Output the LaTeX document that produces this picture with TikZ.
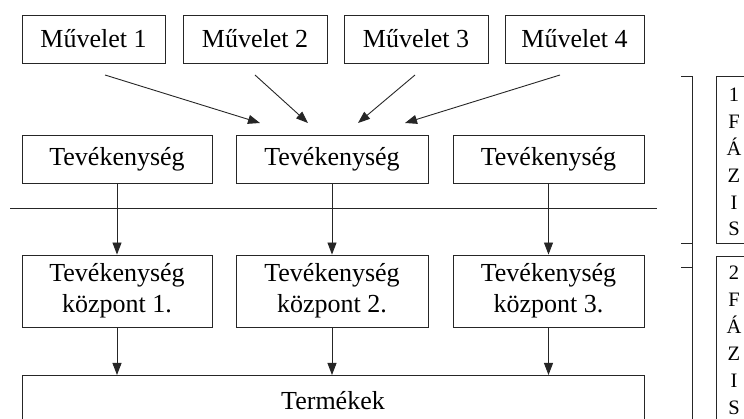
\documentclass[tikz,border=0pt]{standalone}
\usepackage{fontspec}
\setmainfont{Liberation Serif}
\usetikzlibrary{arrows.meta,calc}
\begin{document}
\begin{tikzpicture}[x=1pt,y=-1pt,
  box/.style={draw=black!85, line width=0.9pt, minimum height=48pt, inner sep=0pt,
    font=\fontsize{26}{31}\selectfont, align=center},
  arr/.style={draw=black!85, line width=0.9pt, -{Triangle[length=12pt,width=9pt]}},
  plain/.style={draw=black!85, line width=0.9pt},
  letter/.style={inner sep=0pt, anchor=base, font=\fontsize{20.5}{24}\selectfont}]
\useasboundingbox (0,0) rectangle (744,419);
\clip (0,0) rectangle (744,419);
% top row
\node[box, minimum width=143pt] (m1) at (93.5,39) {Művelet 1};
\node[box, minimum width=144pt] (m2) at (255,39) {Művelet 2};
\node[box, minimum width=144pt] (m3) at (416,39) {Művelet 3};
\node[box, minimum width=139pt] (m4) at (574.5,39) {Művelet 4};
% activity row
\node[box, minimum width=190pt] (t1) at (117,159) {Tevékenység};
\node[box, minimum width=192pt] (t2) at (332,159) {Tevékenység};
\node[box, minimum width=191pt] (t3) at (548.5,159) {Tevékenység};
% centre row
\node[box, minimum width=190pt, minimum height=72pt] (c1) at (117,291) {Tevékenység\\központ 1.};
\node[box, minimum width=192pt, minimum height=72pt] (c2) at (332,291) {Tevékenység\\központ 2.};
\node[box, minimum width=191pt, minimum height=72pt] (c3) at (548.5,291) {Tevékenység\\központ 3.};
% products
\node[box, anchor=north, minimum width=622pt, minimum height=0pt, text height=34pt, text depth=40pt] (p) at (333,375) {Termékek};
% arrows from operations
\coordinate (a1s) at (105,75);  \coordinate (a1e) at (260,123);
\coordinate (a2s) at (255,75);  \coordinate (a2e) at (308,123);
\coordinate (a3s) at (415,75);  \coordinate (a3e) at (358,123);
\coordinate (a4s) at (560,75);  \coordinate (a4e) at (405,123);
\draw[arr] (a1s) -- (a1e);
\draw[arr] (a2s) -- (a2e);
\draw[arr] (a3s) -- (a3e);
\draw[arr] (a4s) -- (a4e);
% separator line
\coordinate (h1) at (10,208); \coordinate (h2) at (657,208);
\draw[plain] (h1) -- (h2);
% vertical arrows
\draw[arr] (t1) -- (c1);
\draw[arr] (t2.south) -- (t2.south |- c2.north);
\draw[arr] (t3) -- (c3);
\draw[arr] (c1.south) -- (c1.south |- p.north);
\draw[arr] (c2.south) -- (c2.south |- p.north);
\draw[arr] (c3.south) -- (c3.south |- p.north);
% bracket
\coordinate (b0) at (681,76); \coordinate (b1) at (692,76); \coordinate (b2) at (692,430);
\coordinate (k1) at (681,243); \coordinate (k1e) at (692,243);
\coordinate (k2) at (681,267); \coordinate (k2e) at (692,267);
\draw[plain] (b0) -- (b1) -- (b2);
\draw[plain] (k1) -- (k1e);
\draw[plain] (k2) -- (k2e);
% phase boxes
\node[plain, anchor=north west, minimum width=36pt, minimum height=167pt, inner sep=0pt] (f1) at (716,76) {};
\node[plain, anchor=north west, minimum width=36pt, minimum height=200pt, inner sep=0pt] (f2) at (716,256) {};
\foreach \ch [count=\i] in {1,F,Á,Z,I,S}
  \node[letter] (pa\i) at (734,{102+26.8*(\i-1)}) {\ch};
\foreach \ch [count=\i] in {2,F,Á,Z,I,S}
  \node[letter] (pb\i) at (734,{280+26.8*(\i-1)}) {\ch};
\end{tikzpicture}
\end{document}
